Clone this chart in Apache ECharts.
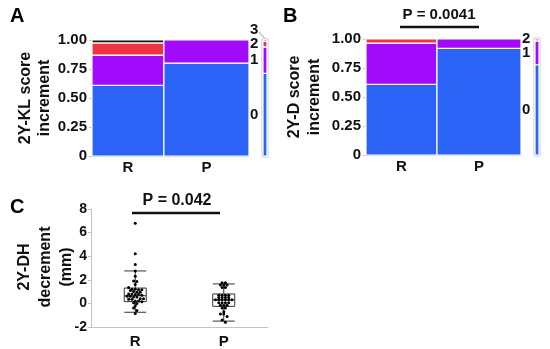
<!DOCTYPE html>
<html><head><meta charset="utf-8">
<script src="https://cdn.jsdelivr.net/npm/echarts@6/dist/echarts.min.js"></script>
<style>html,body{margin:0;padding:0;background:#fff}#c{width:550px;height:349px}</style>
</head><body><div id="c"></div>
<script>
// ---------- data ----------
const groups = ['R', 'P'];
const groupShare = [0.458, 0.542];          // mosaic column widths (share of patients)
const klLevels = ['0', '1', '2', '3'];
const klR = [0.61, 0.26, 0.105, 0.025];
const klP = [0.80, 0.20, 0.00, 0.00];
const dLevels = ['0', '1', '2'];
const dR = [0.61, 0.355, 0.035];
const dP = [0.92, 0.08, 0.00];
const mosaicTicks = [0, 0.25, 0.5, 0.75, 1];
const dhTicks = [-2, 0, 2, 4, 6, 8];
const dhR = [6.8, 4.2, 3.3, 2.75, 2.3, 1.9, 1.85, 1.6, 1.35,
  1.2, 1.2, 1.15, 1.15, 1.1, 1.0, 0.95, 0.95,
  0.8, 0.8, 0.75, 0.75, 0.7, 0.6, 0.6, 0.55, 0.55,
  0.4, 0.4, 0.35, 0.35, 0.2, 0.2, 0.15, 0.05, 0.0,
  -0.2, -0.4, -0.6, -0.85];
const dhP = [1.75, 1.75, 1.55, 1.55, 1.55, 1.35, 1.35,
  0.7, 0.7, 0.7, 0.7, 0.5, 0.5, 0.5, 0.5,
  0.3, 0.3, 0.3, 0.3, 0.3, 0.3, 0.05, 0.05, 0.05, 0.05,
  -0.15, -0.15, -0.15, -0.4, -0.4, -0.7, -0.9, -0.9, -1.1, -1.4, -1.6];
const boxR = [-0.75, 0.15, 0.65, 1.3, 2.75];
const boxP = [-1.5, -0.25, 0.3, 0.8, 1.65];
const pTextB = 'P = 0.0041';
const pTextC = 'P = 0.042';
const panelLetters = ['A', 'B', 'C'];
const yNames = ['2Y-KL score\nincrement', '2Y-D score\nincrement', '2Y-DH\ndecrement\n(mm)'];

// ---------- styles ----------
const FONT = "'Liberation Sans', Arial, sans-serif";
const levelColors = ['#2b63f6', '#a20afc', '#ef3340', '#151515'];
const axisGrey = '#c4c4c4';

// ---------- builders ----------
function mosaicSegments(rows) {
  const out = [];
  let x = 0;
  rows.forEach((props, gi) => {
    let y = 0;
    props.forEach((p, li) => {
      if (p > 0) out.push([x, x + groupShare[gi], y, y + p, li]);
      y += p;
    });
    x += groupShare[gi];
  });
  return out;
}
function marginal(rows) {
  const n = rows[0].length, m = [];
  for (let li = 0; li < n; li++) {
    let s = 0;
    rows.forEach((props, gi) => { s += props[li] * groupShare[gi]; });
    m.push(s);
  }
  const tot = m.reduce((a, b) => a + b, 0);
  return m.map(v => v / tot);
}
function marginalSegments(m) {
  const out = []; let y = 0;
  m.forEach((p, li) => { out.push([0, 1, y, y + p, li]); y += p; });
  return out;
}
function levelLabels(m, levels, plotH) {
  const minGap = 14 / plotH;
  const out = []; let y = 0, prev = -1;
  m.forEach((p, li) => {
    const mid = y + p / 2;
    let ly = mid;
    if (prev >= 0 && ly < prev + minGap) ly = prev + minGap;
    out.push([ly, mid, levels[li]]);
    prev = ly; y += p;
  });
  return out;
}
function colLabels() {
  const out = []; let x = 0;
  groups.forEach((g, gi) => { out.push([x + groupShare[gi] / 2, g]); x += groupShare[gi]; });
  return out;
}
function rectItem(params, api) {
  const p0 = api.coord([api.value(0), api.value(3)]);
  const p1 = api.coord([api.value(1), api.value(2)]);
  return { type: 'rect', shape: { x: p0[0], y: p0[1], width: p1[0] - p0[0], height: p1[1] - p0[1] },
    style: { fill: levelColors[api.value(4)], stroke: '#fff', lineWidth: 1.2 } };
}
function borderItem(params, api) {
  const p0 = api.coord([0, 1]), p1 = api.coord([1, 0]);
  return { type: 'rect', shape: { x: p0[0] - 1, y: p0[1] - 1, width: p1[0] - p0[0] + 2, height: p1[1] - p0[1] + 2 },
    style: { fill: 'none', stroke: axisGrey, lineWidth: 1 } };
}
function colLabelItem(params, api) {
  const p = api.coord([api.value(0), 0]);
  return { type: 'text', x: p[0], y: p[1] + 12,
    style: { text: groups[params.dataIndex], font: 'bold 15px ' + FONT, fill: '#111', align: 'center', verticalAlign: 'middle' } };
}
function levelLabelItem(labels) {
  return function (params, api) {
    const d = labels[params.dataIndex];
    const p = api.coord([1, d[0]]);
    const pm = api.coord([1, d[1]]);
    const children = [{ type: 'text', x: p[0] + 1, y: p[1],
      style: { text: d[2], font: 'bold 15px ' + FONT, fill: '#111', align: 'left', verticalAlign: 'middle' } }];
    if (d[0] - d[1] > 0.05) {
      children.push({ type: 'line', shape: { x1: p[0] + 10, y1: p[1] + 2, x2: p[0] + 16, y2: pm[1] - 2 },
        style: { stroke: '#777', lineWidth: 0.8 } });
    }
    return { type: 'group', children };
  };
}
function swarm(values, cat, pxPerUnit) {
  const bins = {};
  values.forEach(v => {
    const k = Math.round(v * pxPerUnit / 3.0);
    (bins[k] = bins[k] || []).push(v);
  });
  const out = [];
  Object.keys(bins).forEach(k => {
    const arr = bins[k], n = arr.length;
    arr.forEach((v, i) => out.push([cat, v, (i - (n - 1) / 2) * 3.3]));
  });
  return out;
}

const klSeg = mosaicSegments([klR, klP]);
const dSeg = mosaicSegments([dR, dP]);
const klM = marginal([klR, klP]);
const dM = marginal([dR, dP]);
const klLab = levelLabels(klM, klLevels, 116);
const dLab = levelLabels(dM, dLevels, 116);
const dots = swarm(dhR, 0, 11.8).concat(swarm(dhP, 1, 11.8));

// ---------- axes ----------
function mosaicY(gi) {
  return { type: 'value', gridIndex: gi, min: 0, max: 1, interval: 0.25,
    axisLine: { show: true, lineStyle: { color: axisGrey } },
    axisTick: { show: true, length: 3, lineStyle: { color: axisGrey } },
    splitLine: { show: false },
    axisLabel: { margin: 5, color: '#111', fontFamily: FONT, fontWeight: 'bold', fontSize: 15,
      formatter: v => (v === 0 ? '0' : v.toFixed(2)) } };
}
function hiddenY(gi) {
  return { type: 'value', gridIndex: gi, min: 0, max: 1, show: false };
}
function mosaicX(gi, line) {
  return { type: 'value', gridIndex: gi, min: 0, max: 1,
    axisLine: { show: line, onZero: false, lineStyle: { color: axisGrey } },
    axisTick: { show: false }, axisLabel: { show: false }, splitLine: { show: false } };
}

const option = {
  animation: false,
  grid: [
    { left: 92, top: 40, width: 157, height: 116 },
    { left: 263, top: 40, width: 4, height: 116 },
    { left: 366, top: 39, width: 155, height: 116 },
    { left: 535, top: 39, width: 4, height: 116 },
    { left: 91, top: 209, width: 177, height: 118 }
  ],
  xAxis: [
    mosaicX(0, true), mosaicX(1, false), mosaicX(2, true), mosaicX(3, false),
    { type: 'category', gridIndex: 4, data: groups, boundaryGap: true,
      axisLine: { show: true, onZero: false, lineStyle: { color: axisGrey } }, axisTick: { show: false },
      axisLabel: { margin: 7, color: '#111', fontFamily: FONT, fontWeight: 'bold', fontSize: 15 } }
  ],
  yAxis: [
    mosaicY(0), hiddenY(1), mosaicY(2), hiddenY(3),
    { type: 'value', gridIndex: 4, min: -2, max: 8, interval: 2,
      axisLine: { show: true, lineStyle: { color: axisGrey } },
      axisTick: { show: true, length: 3, lineStyle: { color: axisGrey } },
      splitLine: { show: false },
      axisLabel: { margin: 4, color: '#111', fontFamily: FONT, fontWeight: 'bold', fontSize: 14 } }
  ],
  series: [
    { type: 'custom', xAxisIndex: 0, yAxisIndex: 0, data: klSeg, renderItem: rectItem, clip: false },
    { type: 'custom', xAxisIndex: 0, yAxisIndex: 0, data: colLabels(), renderItem: colLabelItem, clip: false },
    { type: 'custom', xAxisIndex: 0, yAxisIndex: 0, data: klLab, renderItem: levelLabelItem(klLab), clip: false },
    { type: 'custom', xAxisIndex: 1, yAxisIndex: 1, data: [[0]], renderItem: borderItem, clip: false },
    { type: 'custom', xAxisIndex: 1, yAxisIndex: 1, data: marginalSegments(klM), renderItem: rectItem, clip: false },
    { type: 'custom', xAxisIndex: 2, yAxisIndex: 2, data: dSeg, renderItem: rectItem, clip: false },
    { type: 'custom', xAxisIndex: 2, yAxisIndex: 2, data: colLabels(), renderItem: colLabelItem, clip: false },
    { type: 'custom', xAxisIndex: 2, yAxisIndex: 2, data: dLab, renderItem: levelLabelItem(dLab), clip: false },
    { type: 'custom', xAxisIndex: 3, yAxisIndex: 3, data: [[0]], renderItem: borderItem, clip: false },
    { type: 'custom', xAxisIndex: 3, yAxisIndex: 3, data: marginalSegments(dM), renderItem: rectItem, clip: false },
    { type: 'boxplot', xAxisIndex: 4, yAxisIndex: 4, data: [boxR, boxP], boxWidth: [22, 22],
      itemStyle: { color: 'rgba(0,0,0,0)', borderColor: '#333', borderWidth: 1 }, z: 2 },
    { type: 'custom', xAxisIndex: 4, yAxisIndex: 4, data: dots, z: 3, clip: false,
      renderItem: (params, api) => {
        const p = api.coord([api.value(0), api.value(1)]);
        return { type: 'circle', shape: { cx: p[0] + api.value(2), cy: p[1], r: 1.5 }, style: { fill: '#000' } };
      } }
  ],
  graphic: [
    { type: 'text', left: 10, top: 6, style: { text: panelLetters[0], font: 'bold 20px ' + FONT, fill: '#000' } },
    { type: 'text', left: 283, top: 6, style: { text: panelLetters[1], font: 'bold 20px ' + FONT, fill: '#000' } },
    { type: 'text', left: 10, top: 197, style: { text: panelLetters[2], font: 'bold 20px ' + FONT, fill: '#000' } },
    { type: 'text', x: 35, y: 98, rotation: Math.PI / 2,
      style: { text: yNames[0], font: 'bold 16px ' + FONT, lineHeight: 19, fill: '#111', align: 'center', verticalAlign: 'middle' } },
    { type: 'text', x: 305, y: 97, rotation: Math.PI / 2,
      style: { text: yNames[1], font: 'bold 16px ' + FONT, lineHeight: 20, fill: '#111', align: 'center', verticalAlign: 'middle' } },
    { type: 'text', x: 46, y: 267, rotation: Math.PI / 2,
      style: { text: yNames[2], font: 'bold 16px ' + FONT, lineHeight: 21, fill: '#111', align: 'center', verticalAlign: 'middle' } },
    { type: 'text', x: 439, y: 15, style: { text: pTextB, font: 'bold 15px ' + FONT, fill: '#111', align: 'center', verticalAlign: 'middle' } },
    { type: 'line', shape: { x1: 400, y1: 27, x2: 479, y2: 27 }, style: { stroke: '#111', lineWidth: 2.5 } },
    { type: 'text', x: 177, y: 201, style: { text: pTextC, font: 'bold 16px ' + FONT, fill: '#111', align: 'center', verticalAlign: 'middle' } },
    { type: 'line', shape: { x1: 132, y1: 213, x2: 220, y2: 213 }, style: { stroke: '#111', lineWidth: 2.5 } }
  ]
};
echarts.init(document.getElementById('c')).setOption(option);
</script>
</body></html>
